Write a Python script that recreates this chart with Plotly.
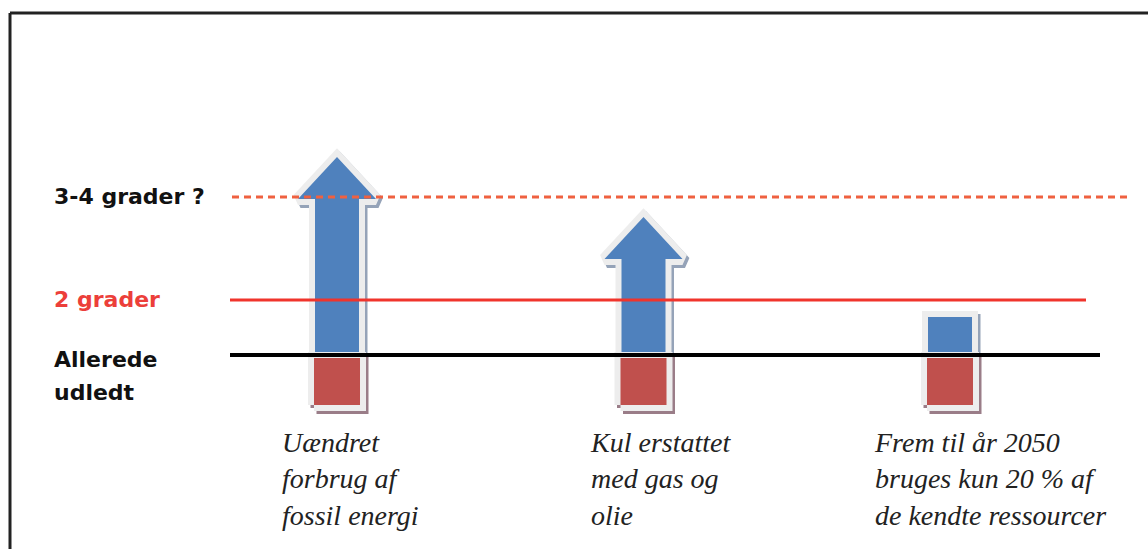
import plotly.graph_objects as go

# ---- data -------------------------------------------------------------
scenarios = [
    "Uændret<br>forbrug af<br>fossil energi",
    "Kul erstattet<br>med gas og<br>olie",
    "Frem til år 2050<br>bruges kun 20 % af<br>de kendte ressourcer",
]
already_emitted = [1.0, 1.0, 1.0]      # red base: what has already been emitted
projected_total = [4.96, 3.76, 1.76]   # top of the blue part
open_ended = [True, True, False]       # arrow head for open-ended scenarios

level_labels = ["Allerede udledt", "2 grader", "3-4 grader ?"]
level_values = [1.0, 2.1, 4.16]

# ---- geometry / style -------------------------------------------------
W, H = 1148, 549
X0_PX, X_PX = 337.0, 306.5   # pixel of first slot, pixels per slot
Y0_PX, Y_PX = 405.0, 50.0    # pixel (from top) of zero, pixels per unit


def dx(px):
    return px / X_PX


def dy(px):
    return px / Y_PX


def x_of_px(px):
    return (px - X0_PX) / X_PX


x_range = [-X0_PX / X_PX, (W - X0_PX) / X_PX]
y_range = [-(H - Y0_PX) / Y_PX, Y0_PX / Y_PX]

SHAFT, HEAD_W, HEAD_H, BASE_W, GAP = 44, 78, 42, 46, 3
RIM_W, SH_DX, SH_DY = 12, 2.5, 3
BLUE, RED = "#4f81bd", "#c0504d"
RIM = "#ededed"
BLUE_SHADOW, RED_SHADOW = "#95a3b8", "#9a7d88"

level_styles = [
    dict(color="#000000", width=4, dash="solid"),
    dict(color="#f0342c", width=3, dash="solid"),
    dict(color="#ef6140", width=3, dash="7px,5px"),
]
level_span_px = [(230, 1100), (230, 1086), (232, 1127)]
level_label_colors = ["#111111", "#ec3f3a", "#111111"]

label_left_px = [280, 588, 872]
label_top_px = 425

fig = go.Figure()


def add_piece(xs, ys, fill, shadow):
    common = dict(mode="lines", fill="toself", hoverinfo="skip", showlegend=False)
    fig.add_trace(go.Scatter(
        x=[v + dx(SH_DX) for v in xs], y=[v - dy(SH_DY) for v in ys],
        fillcolor=shadow, line=dict(color=shadow, width=RIM_W), **common))
    fig.add_trace(go.Scatter(
        x=xs, y=ys, fillcolor=RIM, line=dict(color=RIM, width=RIM_W), **common))
    fig.add_trace(go.Scatter(
        x=xs, y=ys, fillcolor=fill, line=dict(color=fill, width=0), **common))


for i, (base, top, arrow) in enumerate(zip(already_emitted, projected_total, open_ended)):
    c = float(i)
    b = base + dy(GAP)
    s = dx(SHAFT) / 2
    if arrow:
        h = dx(HEAD_W) / 2
        neck = top - dy(HEAD_H)
        xs = [c - s, c - s, c - h, c, c + h, c + s, c + s, c - s]
        ys = [b, neck, neck, top, neck, neck, b, b]
    else:
        xs = [c - s, c - s, c + s, c + s, c - s]
        ys = [b, top, top, b, b]
    add_piece(xs, ys, BLUE, BLUE_SHADOW)

    r = dx(BASE_W) / 2
    rt = base - dy(GAP)
    add_piece([c - r, c - r, c + r, c + r, c - r], [0, rt, rt, 0, 0], RED, RED_SHADOW)

# threshold lines
for val, st, (x_a, x_b) in zip(level_values, level_styles, level_span_px):
    fig.add_trace(go.Scatter(
        x=[x_of_px(x_a), x_of_px(x_b)], y=[val, val], mode="lines",
        line=st, hoverinfo="skip", showlegend=False))

# level labels on the left
bold = dict(family="DejaVu Sans, Arial, sans-serif", size=22)
for name, val, col in zip(level_labels, level_values, level_label_colors):
    words = name.split(" ") if name == "Allerede udledt" else [name]
    if len(words) == 1:
        fig.add_annotation(x=52 / W, xref="paper", y=val + dy(1), yref="y",
                           text="<b>%s</b>" % name, showarrow=False,
                           xanchor="left", yanchor="middle",
                           font=dict(color=col, **bold))
    else:
        for k, w in enumerate(words):
            fig.add_annotation(x=52 / W, xref="paper", y=val - dy(4 + 33 * k), yref="y",
                               text="<b>%s</b>" % w, showarrow=False,
                               xanchor="left", yanchor="middle",
                               font=dict(color=col, **bold))

# scenario captions
for text, left in zip(scenarios, label_left_px):
    fig.add_annotation(x=left / W, xref="paper", y=1 - label_top_px / H, yref="paper",
                       text=text, showarrow=False, xanchor="left", yanchor="top",
                       align="left",
                       font=dict(family="Liberation Serif, Times New Roman, serif",
                                 size=28, style="italic", color="#222222"))

# frame
frame_y = 1 - 13 / H
frame_x = 10 / W
fig.add_shape(type="line", xref="paper", yref="paper", x0=frame_x, x1=1,
              y0=frame_y, y1=frame_y, line=dict(color="#222222", width=3))
fig.add_shape(type="line", xref="paper", yref="paper", x0=frame_x, x1=frame_x,
              y0=frame_y, y1=0, line=dict(color="#222222", width=3))

fig.update_layout(
    width=W, height=H,
    margin=dict(l=0, r=0, t=0, b=0),
    paper_bgcolor="white", plot_bgcolor="white",
    xaxis=dict(range=x_range, visible=False, fixedrange=True),
    yaxis=dict(range=y_range, visible=False, fixedrange=True),
    showlegend=False,
)

fig.write_html("out.html", config={"displayModeBar": False})
